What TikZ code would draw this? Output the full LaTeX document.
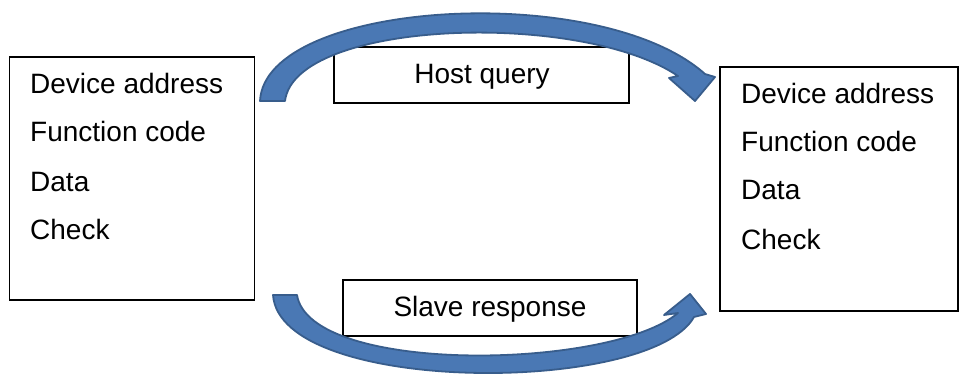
\documentclass[tikz,border=0pt]{standalone}
\usepackage{fontspec}
\setmainfont{Liberation Sans}
\definecolor{arrowfill}{RGB}{74,120,180}
\definecolor{arrowline}{RGB}{56,93,140}
\begin{document}
\begin{tikzpicture}[x=1pt,y=-1pt,
  box/.style={draw=black,line width=1.6pt,rectangle,inner sep=0pt},
  txt/.style={anchor=base west,inner sep=0pt,font=\fontsize{28}{33}\selectfont},
  ctxt/.style={anchor=base,inner sep=0pt,font=\fontsize{28}{33}\selectfont},
  blockarrow/.style={fill=arrowfill,draw=arrowline,line width=1.8pt,line join=round}]
\useasboundingbox[fill=white] (0,0) rectangle (960,374);
% boxes
\node[box,minimum width=245pt,minimum height=243pt] (L) at (132,178.5) {};
\node[box,minimum width=238pt,minimum height=244pt] (R) at (839,189) {};
\node[box,minimum width=295pt,minimum height=56pt] (HQ) at (481.5,75) {};
\node[box,minimum width=294pt,minimum height=56pt] (SR) at (490,308) {};
% texts
\node[txt] (l1) at (30,94) {Device address};
\node[txt] (l2) at (30,142) {Function code};
\node[txt] (l3) at (30,191) {Data};
\node[txt] (l4) at (30,239) {Check};
\node[txt] (r1) at (741,104) {Device address};
\node[txt] (r2) at (741,152) {Function code};
\node[txt] (r3) at (741,200) {Data};
\node[txt] (r4) at (741,249) {Check};
\node[ctxt] (hqt) at (482,84) {Host query};
\node[ctxt] (srt) at (490,316) {Slave response};
% top block arrow
\draw[blockarrow] (260,101) -- (285,101)
  .. controls (295,20) and (580,10) .. (678,76)
  -- (669,78) -- (695,101) -- (715,77) -- (705,74)
  .. controls (600,-20) and (265,0) .. (260,101) -- cycle;
% bottom block arrow
\draw[blockarrow] (273,295) -- (297,295)
  .. controls (310,375) and (610,370) .. (678,313)
  -- (664,315) -- (690,294) -- (706,314) -- (694,317)
  .. controls (650,395) and (280,395) .. (273,295) -- cycle;
\end{tikzpicture}
\end{document}
